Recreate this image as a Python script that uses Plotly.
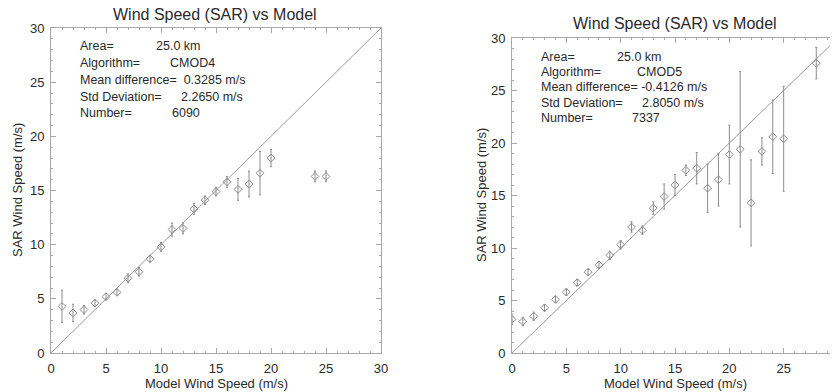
import plotly.graph_objects as go

# ---- data ----
x_cmod4 = [1, 2, 3, 4, 5, 6, 7, 8, 9, 10, 11, 12, 13, 14, 15, 16, 17, 18, 19, 20, 24, 25]
y_cmod4 = [4.3, 3.7, 4.0, 4.6, 5.2, 5.6, 6.9, 7.5, 8.7, 9.8, 11.4, 11.5, 13.3, 14.1, 14.9, 15.8,
           15.1, 15.6, 16.6, 18.0, 16.3, 16.3]
e_cmod4 = [1.5, 0.8, 0.4, 0.3, 0.3, 0.3, 0.4, 0.4, 0.3, 0.4, 0.6, 0.5, 0.5, 0.4, 0.4, 0.5,
           1.0, 1.2, 2.0, 0.8, 0.5, 0.5]

x_cmod5 = [0, 1, 2, 3, 4, 5, 6, 7, 8, 9, 10, 11, 12, 13, 14, 15, 16, 17, 18, 19, 20, 21, 22, 23, 24, 25, 28]
y_cmod5 = [3.2, 3.0, 3.5, 4.3, 5.1, 5.8, 6.7, 7.7, 8.4, 9.3, 10.3, 12.0, 11.7, 13.8, 14.9, 16.0,
           17.4, 17.6, 15.7, 16.5, 18.9, 19.4, 14.3, 19.2, 20.6, 20.4, 27.6]
e_cmod5 = [0.5, 0.4, 0.4, 0.3, 0.3, 0.3, 0.3, 0.3, 0.3, 0.4, 0.4, 0.5, 0.4, 0.6, 1.2, 1.0,
           0.5, 1.5, 2.3, 2.5, 2.8, 7.4, 4.1, 1.3, 3.5, 5.0, 1.5]

one_to_one = [0, 30]

stats_labels = ["Area=", "Algorithm=", "Mean difference=", "Std Deviation=", "Number="]
stats_cmod4 = ["25.0 km", "CMOD4", "\u00a00.3285 m/s", "2.2650 m/s", "6090"]
stats_cmod5 = ["25.0 km", "CMOD5", "-0.4126 m/s", "2.8050 m/s", "7337"]

title_text = "Wind Speed (SAR) vs Model"
xtitle = "Model Wind Speed (m/s)"
ytitle = "SAR Wind Speed (m/s)"

# The page body has an 8px margin, so the figure is drawn 8px in from the
# window's top-left corner; all reference pixel positions are shifted by it.
OFF = 8
W, H = 838 - OFF, 392 - OFF
FONT = "Liberation Sans, Arial, Helvetica, sans-serif"
GREY = "#8c8c8c"
AX = "#a8a8a8"
TXT = "#2a2a2a"

fig = go.Figure()

for xs, ys, es, xa, ya in [(x_cmod4, y_cmod4, e_cmod4, "x", "y"),
                           (x_cmod5, y_cmod5, e_cmod5, "x2", "y2")]:
    fig.add_trace(go.Scatter(x=one_to_one, y=one_to_one, mode="lines",
                             line=dict(color="#9a9a9a", width=1), xaxis=xa, yaxis=ya,
                             hoverinfo="skip", showlegend=False))
    fig.add_trace(go.Scatter(x=xs, y=ys, mode="markers", xaxis=xa, yaxis=ya,
                             marker=dict(symbol="diamond-open", size=6, color=GREY,
                                         line=dict(width=1, color=GREY)),
                             error_y=dict(type="data", array=es, visible=True,
                                          color=GREY, thickness=1, width=1),
                             showlegend=False, cliponaxis=True))

# pixel geometry (window pixels of the reference)
L_x0, L_x1 = 51, 381
L_y0, L_y1 = 353, 28
R_x0 = 512
R_y0, R_y1 = 353, 38

def px(p):
    return (p - OFF) / W

def py(p):
    return 1 - (p - OFF) / H

axis_common = dict(range=[0, 30], dtick=5, tick0=0, showgrid=False, zeroline=False,
                   automargin=False,
                   showline=True, linecolor=AX, linewidth=1, mirror="ticks",
                   ticks="inside", ticklen=5, tickcolor=AX, tickwidth=1,
                   minor=dict(dtick=1, ticklen=2, ticks="inside", tickcolor=AX),
                   tickfont=dict(family=FONT, size=13, color=TXT))

fig.update_layout(
    width=W, height=H, margin=dict(l=0, r=0, t=0, b=0, autoexpand=False),
    paper_bgcolor="white", plot_bgcolor="white",
    xaxis=dict(domain=[px(L_x0), px(L_x1)], anchor="y", ticklabelstandoff=3, **axis_common),
    yaxis=dict(domain=[py(L_y0), py(L_y1)], anchor="x", ticklabelstandoff=3, **axis_common),
    xaxis2=dict(domain=[px(R_x0), 1.0], anchor="y2", ticklabelstandoff=3,
                ticklabeloverflow="allow", **axis_common),
    yaxis2=dict(domain=[py(R_y0), py(R_y1)], anchor="x2", ticklabelstandoff=3, **axis_common),
)

ann = []
# titles
for cx, cy in [(215, 15), (675, 24)]:
    ann.append(dict(text=title_text, x=px(cx), y=py(cy), xref="paper", yref="paper",
                    showarrow=False, xanchor="center", yanchor="middle", borderpad=0,
                    font=dict(family=FONT, size=16, color=TXT)))
# x titles
for cx in [216, 675]:
    ann.append(dict(text=xtitle, x=px(cx), y=py(383), xref="paper", yref="paper",
                    showarrow=False, xanchor="center", yanchor="middle",
                    font=dict(family=FONT, size=13, color=TXT)))
# y titles
for cx, cy in [(18, 190), (481, 195)]:
    ann.append(dict(text=ytitle, x=px(cx), y=py(cy), xref="paper", yref="paper",
                    showarrow=False, xanchor="center", yanchor="middle", textangle=-90,
                    font=dict(family=FONT, size=13, color=TXT)))

# stats text blocks (positions in axis units); None -> value follows label directly
left_lab_x = 2.45
left_val_x = [9.36, 10.64, None, 11.64, 10.82]
left_rows = [28.35, 26.78, 25.21, 23.64, 22.16]
right_lab_x = 2.48
right_val_x = [9.48, 11.32, None, 11.78, 10.86]
right_rows = [28.2, 26.75, 25.3, 23.8, 22.35]

for xr, yr, labx, valx, rows, vals in [("x", "y", left_lab_x, left_val_x, left_rows, stats_cmod4),
                                       ("x2", "y2", right_lab_x, right_val_x, right_rows, stats_cmod5)]:
    for lab, val, vx, ry in zip(stats_labels, vals, valx, rows):
        if vx is None:
            ann.append(dict(text=lab + "\u00a0" + val, x=labx, y=ry, xref=xr, yref=yr,
                            showarrow=False, xanchor="left", yanchor="middle",
                            font=dict(family=FONT, size=12.5, color=TXT)))
            continue
        ann.append(dict(text=lab, x=labx, y=ry, xref=xr, yref=yr, showarrow=False,
                        xanchor="left", yanchor="middle",
                        font=dict(family=FONT, size=12.5, color=TXT)))
        ann.append(dict(text=val, x=vx, y=ry, xref=xr, yref=yr, showarrow=False,
                        xanchor="left", yanchor="middle",
                        font=dict(family=FONT, size=12.5, color=TXT)))

fig.update_layout(annotations=ann)
fig.write_html("out.html")
